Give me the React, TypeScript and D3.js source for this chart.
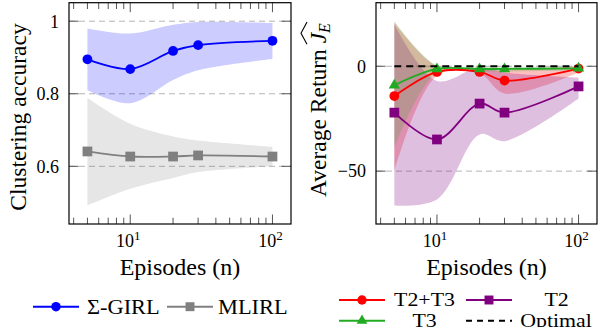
import React, { useEffect, useRef } from 'react'
import * as d3 from 'd3'

// episodes on the x axis (log scale)
const episodes = [5, 10, 20, 30, 100]

// left panel: clustering accuracy
const sigmaGirl = [0.895, 0.868, 0.918, 0.934, 0.946]
const sigmaGirlLow = [0.81, 0.774, 0.838, 0.865, 0.896]
const sigmaGirlHigh = [0.98, 0.966, 0.99, 0.998, 0.995]
const mlirl = [0.641, 0.627, 0.627, 0.63, 0.627]
const mlirlLow = [0.492, 0.538, 0.568, 0.584, 0.6]
const mlirlHigh = [0.788, 0.717, 0.682, 0.671, 0.654]

// right panel: average return
const t2t3 = [-14.2, -2.7, -2.7, -6.8, -1.1]
const t2t3Low = [-50, -4.5, -3.5, -13, -3]
const t2t3High = [21, 0, -1, -1.5, 0]
const t3 = [-9.1, -1.3, -1.3, -1.3, -1.0]
const t3Low = [-38.7, -3, -2.5, -2.5, -2]
const t3High = [21.5, 0.5, 0, -0.3, 0]
const t2 = [-22.1, -34.9, -17.8, -22.1, -9.6]
const t2Low = [-66.4, -63.5, -32.5, -35.7, -15.4]
const t2High = [20, -7, -0.5, -3, -5.4]
const optimal = [0, 0, 0, 0, 0]

const xMajor = [10, 100]
const xMinor = [4, 5, 6, 7, 8, 9, 20, 30, 40, 50, 60, 70, 80, 90]
const leftTicks = [0.6, 0.8, 1]
const leftTickLabels = ['0.6', '0.8', '1']
const rightTicks = [-50, 0]
const rightTickLabels = ['\u221250', '0']

const TOP = 2.7
const BOTTOM = 224
const GREEN = '#22aa22'
const curve = d3.curveCatmullRom.alpha(0.5)

type Sel = d3.Selection<SVGGElement, unknown, null, undefined>

const drawGrid = (g: Sel, x: d3.ScaleLogarithmic<number, number>, y: d3.ScaleLinear<number, number>,
  ticks: number[]) => {
  const [x0, x1] = x.range()
  g.selectAll('.grid').data(ticks).enter().append('line')
    .attr('x1', x0).attr('x2', x1).attr('y1', (d) => y(d)).attr('y2', (d) => y(d))
    .attr('stroke', '#b4b4b4').attr('stroke-width', 1).attr('stroke-dasharray', '6,4')
}

const drawAxes = (g: Sel, x: d3.ScaleLogarithmic<number, number>, y: d3.ScaleLinear<number, number>,
  ticks: number[], labels: string[]) => {
  const [x0, x1] = x.range()
  const tick = (xs: number[], len: number) => {
    xs.forEach((v) => {
      g.append('line').attr('x1', x(v)).attr('x2', x(v)).attr('y1', BOTTOM).attr('y2', BOTTOM - len)
        .attr('stroke', '#555').attr('stroke-width', 1)
      g.append('line').attr('x1', x(v)).attr('x2', x(v)).attr('y1', TOP).attr('y2', TOP + len)
        .attr('stroke', '#555').attr('stroke-width', 1)
    })
  }
  tick(xMinor, 6.3)
  tick(xMajor, 9.5)
  ticks.forEach((v) => {
    g.append('line').attr('x1', x0).attr('x2', x0 + 9.5).attr('y1', y(v)).attr('y2', y(v))
      .attr('stroke', '#555').attr('stroke-width', 1)
    g.append('line').attr('x1', x1).attr('x2', x1 - 9.5).attr('y1', y(v)).attr('y2', y(v))
      .attr('stroke', '#555').attr('stroke-width', 1)
  })
  g.append('rect').attr('x', x0).attr('y', TOP).attr('width', x1 - x0).attr('height', BOTTOM - TOP)
    .attr('fill', 'none').attr('stroke', '#000').attr('stroke-width', 1.2)

  ticks.forEach((v, i) => {
    g.append('text').attr('x', x0 - 10).attr('y', y(v)).attr('dy', '0.35em')
      .attr('text-anchor', 'end').attr('font-size', 18)
      .text(labels[i])
  })
  xMajor.forEach((v) => {
    const t = g.append('text').attr('x', x(v) - 2).attr('y', 247).attr('text-anchor', 'middle')
      .attr('font-size', 18)
    t.append('tspan').text('10')
    t.append('tspan').attr('dy', -7).attr('font-size', 13).text(String(Math.log10(v)))
  })
  g.append('text').attr('x', (x0 + x1) / 2).attr('y', 275).attr('text-anchor', 'middle')
    .attr('font-size', 24).text('Episodes (n)')
}

const drawSeries = (g: Sel, x: d3.ScaleLogarithmic<number, number>, y: d3.ScaleLinear<number, number>,
  vals: number[], color: string, marker: d3.SymbolType, size: number, dash?: string) => {
  const line = d3.line<number>().x((_, i) => x(episodes[i])).y((d) => y(d)).curve(curve)
  g.append('path').attr('d', line(vals)).attr('fill', 'none').attr('stroke', color)
    .attr('stroke-width', dash ? 2 : 1.8).attr('stroke-dasharray', dash || null)
  if (!dash) {
    g.selectAll(null).data(vals).enter().append('path')
      .attr('d', d3.symbol().type(marker).size(size)())
      .attr('transform', (d, i) => `translate(${x(episodes[i])},${y(d)})`)
      .attr('fill', color)
  }
}

const drawBand = (g: Sel, x: d3.ScaleLogarithmic<number, number>, y: d3.ScaleLinear<number, number>,
  low: number[], high: number[], color: string, opacity: number) => {
  const area = d3.area<number>().x((_, i) => x(episodes[i])).y0((d) => y(d)).y1((_, i) => y(high[i])).curve(curve)
  g.append('path').attr('d', area(low)).attr('fill', color).attr('fill-opacity', opacity)
}

const legendEntry = (g: Sel, lx: number, cy: number, color: string, marker: d3.SymbolType | null,
  size: number, dash?: string) => {
  g.append('line').attr('x1', lx).attr('x2', lx + 46).attr('y1', cy).attr('y2', cy)
    .attr('stroke', color).attr('stroke-width', 2).attr('stroke-dasharray', dash || null)
  if (marker) {
    g.append('path').attr('d', d3.symbol().type(marker).size(size)())
      .attr('transform', `translate(${lx + 23},${cy})`).attr('fill', color)
  }
}

// legend text, slightly widened like the Computer Modern original
const legendText = (g: Sel, x: number, y: number, s: string, anchor: string, size: number) => {
  g.append('text').attr('transform', `translate(${x},${y}) scale(1.12,1)`)
    .attr('text-anchor', anchor).attr('font-size', size).text(s)
}

const App = () => {
  const refSvg = useRef<SVGSVGElement>(null)

  useEffect(() => {
    const svg = d3.select(refSvg.current)
    svg.selectAll('*').remove()
    const root = svg.append('g') as unknown as Sel

    // ---- left panel
    const xl = d3.scaleLog().domain([3.71, 135]).range([69, 291])
    const yl = d3.scaleLinear().domain([0.441, 1.051]).range([BOTTOM, TOP])
    const gl = root.append('g')
    drawGrid(gl, xl, yl, leftTicks)
    drawBand(gl, xl, yl, sigmaGirlLow, sigmaGirlHigh, '#0000ff', 0.2)
    drawBand(gl, xl, yl, mlirlLow, mlirlHigh, '#808080', 0.2)
    drawSeries(gl, xl, yl, sigmaGirl, '#0000ff', d3.symbolCircle, 75)
    drawSeries(gl, xl, yl, mlirl, '#808080', d3.symbolSquare, 95)
    drawAxes(gl, xl, yl, leftTicks, leftTickLabels)
    gl.append('text').attr('transform', `translate(26,117) rotate(-90)`).attr('text-anchor', 'middle')
      .attr('font-size', 23.5).text('Clustering accuracy')

    // ---- right panel
    const xr = d3.scaleLog().domain([3.71, 135]).range([376, 597])
    const yr = d3.scaleLinear().domain([-75.2, 30.3]).range([BOTTOM, TOP])
    const gr = root.append('g')
    drawGrid(gr, xr, yr, rightTicks)
    drawBand(gr, xr, yr, t2t3Low, t2t3High, '#ff0000', 0.25)
    drawBand(gr, xr, yr, t2Low, t2High, '#800080', 0.25)
    drawBand(gr, xr, yr, t3Low, t3High, GREEN, 0.2)
    drawSeries(gr, xr, yr, t2t3, '#ff0000', d3.symbolCircle, 75)
    drawSeries(gr, xr, yr, t2, '#800080', d3.symbolSquare, 95)
    drawSeries(gr, xr, yr, t3, GREEN, d3.symbolTriangle, 55)
    drawSeries(gr, xr, yr, optimal, '#000', d3.symbolCircle, 0, '7,5')
    drawAxes(gr, xr, yr, rightTicks, rightTickLabels)

    // y label with a wide hat over J_E
    const yg = gr.append('g').attr('transform', 'translate(326,110) rotate(-90)')
    const lab = yg.append('text').attr('text-anchor', 'middle').attr('font-size', 23.5)
    lab.append('tspan').text('Average Return ')
    lab.append('tspan').attr('font-style', 'italic').text('J')
    lab.append('tspan').attr('font-style', 'italic').attr('font-size', 16).attr('dy', 4).text('E')
    const node = lab.node() as SVGTextElement
    const j0 = node.getStartPositionOfChar(15).x
    const e1 = node.getEndPositionOfChar(16).x
    yg.append('path')
      .attr('d', `M${j0 - 1},-19 L${(j0 + e1) / 2},-25 L${e1 + 1},-19`)
      .attr('fill', 'none').attr('stroke', '#000').attr('stroke-width', 1.1)

    // ---- legends
    const lg = root.append('g')
    legendEntry(lg, 33, 306.7, '#0000ff', d3.symbolCircle, 70)
    legendText(lg, 87, 313.5, '\u03a3-GIRL', 'start', 20)
    legendEntry(lg, 167, 306.7, '#808080', d3.symbolSquare, 80)
    legendText(lg, 218, 313.5, 'MLIRL', 'start', 20)

    const rows = [300, 320.7]
    legendEntry(lg, 339, rows[0], '#ff0000', d3.symbolCircle, 70)
    legendEntry(lg, 466, rows[0], '#800080', d3.symbolSquare, 80)
    legendEntry(lg, 339, rows[1], GREEN, d3.symbolTriangle, 50)
    legendEntry(lg, 466, rows[1], '#000', null, 0, '6,5')
    const legTexts: [number, number, string][] = [
      [424.5, rows[0], 'T2+T3'], [556.5, rows[0], 'T2'], [424.5, rows[1], 'T3'], [556, rows[1], 'Optimal'],
    ]
    legTexts.forEach(([cx, cy, s]) => legendText(lg, cx, cy + 6.3, s, 'middle', 19.5))
  }, [])

  return (
    <svg ref={refSvg} width={601} height={327} fontFamily="Liberation Serif"
      style={{ position: 'absolute', left: 0, top: 0, background: '#fff' }} />
  )
}

export default App
